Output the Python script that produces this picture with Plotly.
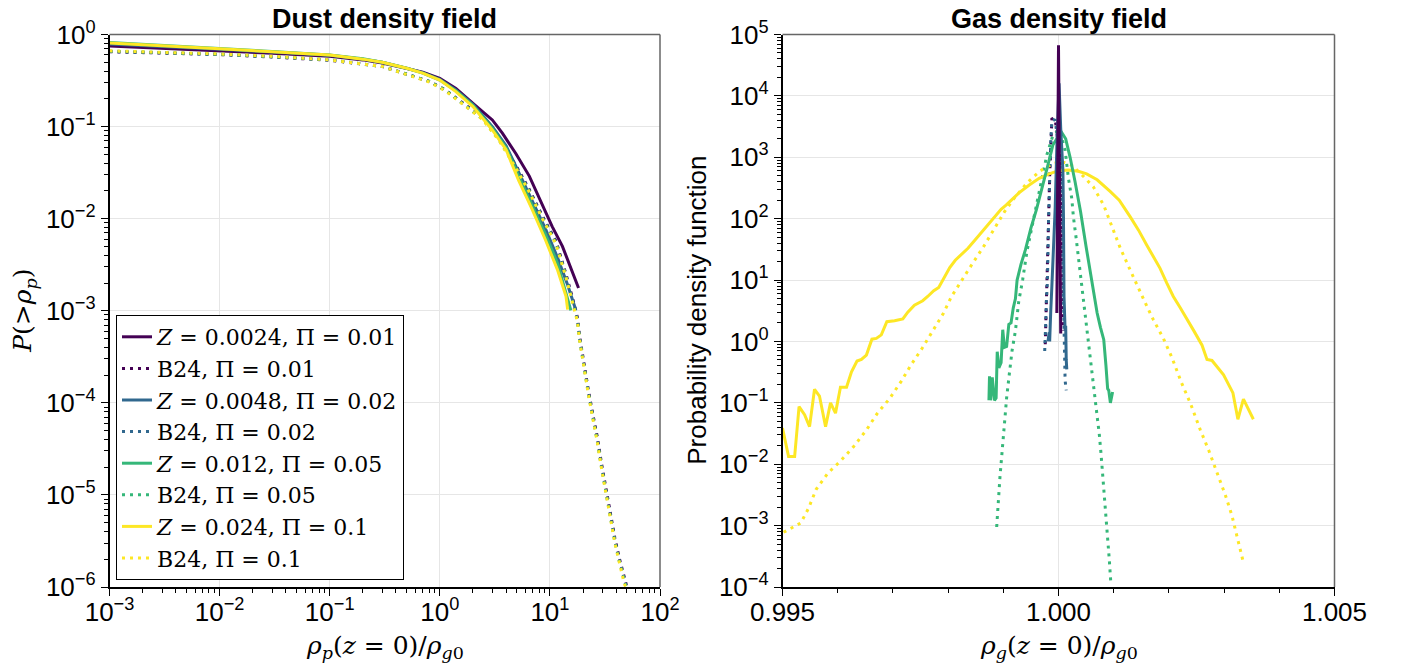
import plotly.graph_objects as go

# ---------------- colours (viridis, 4 levels) ----------------
series_colors = ["#440154", "#31688e", "#35b779", "#fde725"]

# ---------------- left panel: dust density CDF ----------------
legend_names = [
    "<i>Z</i> = 0.0024, Π = 0.01", "B24, Π = 0.01",
    "<i>Z</i> = 0.0048, Π = 0.02", "B24, Π = 0.02",
    "<i>Z</i> = 0.012, Π = 0.05", "B24, Π = 0.05",
    "<i>Z</i> = 0.024, Π = 0.1", "B24, Π = 0.1",
]

dust_x_Z1 = [1e-3, 3e-3, 1e-2, 3e-2, 0.1, 0.2, 0.3, 0.5, 0.7, 1.0, 1.4, 2.1, 3.0, 3.7,
             4.9, 6.5, 7.4, 8.5, 10.5, 13.0, 15.5, 18.2]
dust_P_Z1 = [0.75, 0.71, 0.665, 0.625, 0.58, 0.53, 0.49, 0.43, 0.39, 0.335, 0.26, 0.17,
             0.118, 0.085, 0.051, 0.029, 0.0205, 0.0148, 0.0082, 0.005, 0.0029, 0.00177]

dust_x_Z2 = [1e-3, 3e-3, 1e-2, 3e-2, 0.1, 0.2, 0.3, 0.5, 0.7, 1.0, 1.4, 2.0, 3.0, 4.0,
             5.2, 6.9, 9.1, 11.7, 14.5, 17.2]
dust_P_Z2 = [0.79, 0.745, 0.69, 0.645, 0.595, 0.54, 0.50, 0.43, 0.385, 0.325, 0.25, 0.175,
             0.10, 0.062, 0.032, 0.016, 0.0078, 0.0038, 0.0019, 0.00102]

dust_x_Z3 = [1e-3, 3e-3, 1e-2, 3e-2, 0.1, 0.2, 0.3, 0.5, 0.7, 1.0, 1.4, 2.0, 3.0, 4.0,
             5.2, 6.9, 9.1, 11.7, 14.0, 15.5]
dust_P_Z3 = [0.82, 0.765, 0.705, 0.655, 0.60, 0.545, 0.50, 0.43, 0.38, 0.32, 0.245, 0.17,
             0.096, 0.059, 0.029, 0.014, 0.0068, 0.0033, 0.0016, 0.00101]

dust_x_Z4 = [1e-3, 3e-3, 1e-2, 3e-2, 0.1, 0.2, 0.3, 0.5, 0.7, 1.0, 1.4, 2.0, 3.0, 4.0,
             5.2, 6.9, 9.1, 11.7, 14.0, 14.5]
dust_P_Z4 = [0.81, 0.76, 0.70, 0.65, 0.60, 0.54, 0.50, 0.43, 0.38, 0.32, 0.24, 0.165,
             0.092, 0.056, 0.026, 0.0126, 0.0059, 0.0028, 0.00144, 0.00103]

dust_x_B24 = [1e-3, 3e-3, 1e-2, 3e-2, 0.1, 0.3, 0.8, 1.12, 1.72, 2.44, 3.47, 4.9, 6.46,
              8.5, 11.35, 14.0, 16.6, 17.8, 18.6, 20.4, 22.4, 24.5, 26.9, 29.5, 32.4,
              35.5, 38.9, 42.7, 47.3, 49.5]
dust_P_B24_1 = [0.65, 0.63, 0.605, 0.57, 0.525, 0.45, 0.31, 0.25, 0.172, 0.125, 0.074,
                0.038, 0.021, 0.0108, 0.0057, 0.0025, 0.00118, 8.4e-4, 5.3e-4, 2.6e-4,
                1.35e-4, 7.6e-5, 4.3e-5, 2.15e-5, 1.12e-5, 6.2e-6, 3.4e-6, 2.05e-6,
                1.22e-6, 1.05e-6]
dust_P_B24_2 = [0.655, 0.635, 0.61, 0.575, 0.53, 0.45, 0.31, 0.25, 0.17, 0.123, 0.072,
                0.037, 0.0205, 0.0105, 0.0055, 0.0024, 0.0011, 8.0e-4, 5.0e-4, 2.4e-4,
                1.28e-4, 7.2e-5, 4.0e-5, 2.0e-5, 1.05e-5, 5.8e-6, 3.2e-6, 1.95e-6,
                1.17e-6, 1.0e-6]
dust_P_B24_3 = [0.66, 0.64, 0.61, 0.575, 0.53, 0.45, 0.31, 0.248, 0.168, 0.121, 0.071,
                0.036, 0.02, 0.0103, 0.0054, 0.00235, 0.00108, 7.8e-4, 4.9e-4, 2.35e-4,
                1.25e-4, 7.0e-5, 3.9e-5, 1.95e-5, 1.02e-5, 5.6e-6, 3.1e-6, 1.9e-6,
                1.13e-6, 9.7e-7]
dust_P_B24_4 = [0.665, 0.645, 0.615, 0.58, 0.53, 0.45, 0.305, 0.245, 0.166, 0.12, 0.07,
                0.0355, 0.0197, 0.0101, 0.0053, 0.0023, 0.00105, 7.6e-4, 4.8e-4, 2.3e-4,
                1.22e-4, 6.8e-5, 3.8e-5, 1.9e-5, 1.0e-5, 5.5e-6, 3.0e-6, 1.85e-6,
                1.1e-6, 9.5e-7]

# ---------------- right panel: gas density PDF ----------------
gas_x_Z1 = [0.99997, 0.99998, 1.00000, 1.00002, 1.00004]
gas_pdf_Z1 = [2.9, 300, 67000, 300, 1.35]

gas_x_B24_1 = [0.99976, 0.99977, 0.99978, 0.9998, 0.99982, 0.99984, 0.99986, 0.99988,
               0.99991, 0.99994, 0.99997, 1.0, 1.00003, 1.00005, 1.00006, 1.00008, 1.00009]
gas_pdf_B24_1 = [0.9, 1.8, 3.5, 9, 90, 500, 1700, 4200, 4300, 4100, 2600, 1500, 900, 300,
                 100, 8, 1.5]

gas_x_Z2 = [0.99981, 0.99983, 0.99984, 0.99985, 0.99986, 0.99988, 0.99991, 0.99994,
            0.99997, 1.00001, 1.00004, 1.00006, 1.00008, 1.00009, 1.0001, 1.00012,
            1.00013, 1.00014, 1.00015]
gas_pdf_Z2 = [1.0, 1.4, 1.0, 2.5, 3.2, 8, 30, 150, 1500, 16000, 3000, 1500, 600, 107, 5.4,
              1.5, 1.8, 0.5, 0.35]

gas_x_B24_2 = [0.99975, 0.99976, 0.99977, 0.99978, 0.9998, 0.99982, 0.99984, 0.99986,
               0.99988, 0.99991, 0.99994, 0.99997, 1.0, 1.00003, 1.00005, 1.00006,
               1.00008, 1.00009, 1.0001, 1.00012, 1.00014]
gas_pdf_B24_2 = [0.7, 1.05, 2.2, 4.5, 10, 100, 550, 1800, 4000, 4100, 4000, 2500, 1500,
                 900, 300, 107, 9, 2, 0.7, 0.23, 0.16]

gas_x_Z3 = [0.99874, 0.99875, 0.99877, 0.99880, 0.99884, 0.99887, 0.99889, 0.99892,
            0.99896, 0.99899, 0.99902, 0.99906, 0.99910, 0.99914, 0.99918, 0.99922,
            0.99925, 0.99932, 0.99940, 0.99950, 0.99960, 0.99970, 0.99980, 0.99990,
            1.00005, 1.00013, 1.00021, 1.00030, 1.00040, 1.00050, 1.00060, 1.00066,
            1.00070, 1.00076, 1.00082, 1.00086, 1.00089, 1.00091, 1.00094, 1.00098]
gas_pdf_Z3 = [0.11, 0.27, 0.11, 0.26, 0.11, 0.12, 0.68, 0.37, 0.45, 1.55, 0.8, 0.83, 1.9,
              2.0, 3.5, 5, 10, 18, 31, 70, 140, 300, 700, 1600, 2600, 2000, 1000, 400,
              130, 35, 10, 5, 2.9, 1.7, 1.07, 0.4, 0.17, 0.16, 0.1, 0.15]

gas_x_B24_3 = [0.99888, 0.99889, 0.99891, 0.99894, 0.99897, 0.99900, 0.99903, 0.99906,
               0.99911, 0.99916, 0.99922, 0.99928, 0.99935, 0.99943, 0.99955, 0.99967,
               0.99979, 0.99990, 1.00002, 1.00012, 1.00018, 1.00024, 1.00027, 1.00032,
               1.00036, 1.00039, 1.00044, 1.00048, 1.00053, 1.00057, 1.00062, 1.00066,
               1.00071, 1.00074, 1.00077, 1.00080, 1.00083, 1.00086, 1.00089, 1.00092,
               1.00095]
gas_pdf_B24_3 = [9.5e-4, 1.4e-3, 3e-3, 6.3e-3, 0.013, 0.028, 0.065, 0.12, 0.3, 0.72, 1.5,
                 4.5, 10, 30, 100, 350, 1100, 2300, 2800, 1300, 457, 214, 107, 48, 24,
                 11.5, 5.4, 2.7, 1.29, 0.6, 0.27, 0.12, 0.055, 0.03, 0.015, 7e-3, 3.4e-3,
                 1.6e-3, 6.5e-4, 2.8e-4, 1.1e-4]

gas_x_Z4 = [0.99500, 0.99511, 0.99522, 0.99530, 0.99540, 0.99549, 0.99558, 0.99567,
            0.99578, 0.99587, 0.99596, 0.99605, 0.99616, 0.99625, 0.99635, 0.99643,
            0.99652, 0.99662, 0.99670, 0.99679, 0.99689, 0.99703, 0.99718, 0.99727,
            0.99739, 0.99754, 0.99763, 0.99774, 0.99783, 0.99792, 0.99803, 0.99813,
            0.99824, 0.99836, 0.99848, 0.99860, 0.99872, 0.99884, 0.99896, 0.99905,
            0.99917, 0.99929, 0.99947, 0.99965, 0.99983, 1.00000, 1.00018, 1.00036,
            1.00051, 1.00070, 1.00094, 1.00110, 1.00130, 1.00145, 1.00160, 1.00172,
            1.00184, 1.00196, 1.00208, 1.00220, 1.00232, 1.00245, 1.00260, 1.00269,
            1.00278, 1.00299, 1.00316, 1.00325, 1.00335, 1.00353]
gas_pdf_Z4 = [0.039, 0.0133, 0.0133, 0.087, 0.064, 0.041, 0.166, 0.129, 0.041, 0.10,
              0.068, 0.18, 0.18, 0.32, 0.48, 0.51, 0.6, 1.09, 1.12, 1.28, 2.1, 2.17, 2.33,
              3.0, 3.9, 4.6, 5.4, 6.7, 7.6, 10.7, 16, 21, 26, 33, 44, 59, 79, 107, 142,
              166, 208, 265, 353, 455, 535, 605, 620, 590, 537, 430, 275, 200, 107, 65,
              37, 24, 15.5, 9, 5.4, 3.6, 2.4, 1.5, 0.87, 0.51, 0.49, 0.285, 0.145, 0.054,
              0.115, 0.054]

gas_x_B24_4 = [0.99502, 0.99519, 0.99533, 0.99547, 0.99561, 0.99582, 0.99606, 0.99629,
               0.99652, 0.99672, 0.99694, 0.99715, 0.99733, 0.99753, 0.99772, 0.99791,
               0.99806, 0.99825, 0.99845, 0.99864, 0.99882, 0.99902, 0.99922, 0.99944,
               0.99967, 0.99991, 1.00006, 1.00024, 1.00045, 1.00063, 1.00082, 1.00097,
               1.00112, 1.00127, 1.00142, 1.00157, 1.00172, 1.00190, 1.00205, 1.00223,
               1.00239, 1.00257, 1.00272, 1.00290, 1.00302, 1.00314, 1.00323, 1.00335]
gas_pdf_B24_4 = [7.8e-4, 9.3e-4, 1.1e-3, 1.9e-3, 3.9e-3, 7.1e-3, 0.0115, 0.0195, 0.036,
                 0.068, 0.117, 0.224, 0.417, 0.776, 1.48, 2.82, 5.37, 10.2, 19.1, 34.7,
                 66, 129, 229, 389, 603, 794, 851, 741, 490, 331, 165, 72, 33, 16.6, 8.3,
                 4.3, 2.24, 1.12, 0.56, 0.21, 0.098, 0.036, 0.017, 6.3e-3, 3.2e-3,
                 1.48e-3, 6.6e-4, 2.5e-4]

# ---------------- tick labels ----------------
dust_xtick_vals = [1e-3, 1e-2, 1e-1, 1e0, 1e1, 1e2]
dust_xtick_text = ["10<sup>−3</sup>", "10<sup>−2</sup>", "10<sup>−1</sup>",
                   "10<sup>0</sup>", "10<sup>1</sup>", "10<sup>2</sup>"]
dust_ytick_vals = [1e-6, 1e-5, 1e-4, 1e-3, 1e-2, 1e-1, 1e0]
dust_ytick_text = ["10<sup>−6</sup>", "10<sup>−5</sup>", "10<sup>−4</sup>",
                   "10<sup>−3</sup>", "10<sup>−2</sup>", "10<sup>−1</sup>",
                   "10<sup>0</sup>"]
gas_xtick_vals = [0.995, 1.0, 1.005]
gas_xtick_text = ["0.995", "1.000", "1.005"]
gas_ytick_vals = [1e-4, 1e-3, 1e-2, 1e-1, 1e0, 1e1, 1e2, 1e3, 1e4, 1e5]
gas_ytick_text = ["10<sup>−4</sup>", "10<sup>−3</sup>", "10<sup>−2</sup>",
                  "10<sup>−1</sup>", "10<sup>0</sup>", "10<sup>1</sup>",
                  "10<sup>2</sup>", "10<sup>3</sup>", "10<sup>4</sup>",
                  "10<sup>5</sup>"]

# ---------------- figure ----------------
W, H = 1401, 670
OX, OY = 0, 0          # page body margin is removed below (post_script)
LW = 3
DOT = "3px,5px"


def px_x(px):
    return (px - OX) / W


def px_y(py):
    return (H - (py - OY)) / H


fig = go.Figure()

dust_solid = [(dust_x_Z1, dust_P_Z1), (dust_x_Z2, dust_P_Z2),
              (dust_x_Z3, dust_P_Z3), (dust_x_Z4, dust_P_Z4)]
dust_dotted = [dust_P_B24_1, dust_P_B24_2, dust_P_B24_3, dust_P_B24_4]
for i in range(4):
    xs, ys = dust_solid[i]
    fig.add_trace(go.Scatter(x=xs, y=ys, mode="lines", name=legend_names[2 * i],
                             line=dict(color=series_colors[i], width=LW),
                             xaxis="x", yaxis="y"))
    fig.add_trace(go.Scatter(x=dust_x_B24, y=dust_dotted[i], mode="lines",
                             name=legend_names[2 * i + 1],
                             line=dict(color=series_colors[i], width=LW, dash=DOT),
                             xaxis="x", yaxis="y"))

gas_solid = [(gas_x_Z1, gas_pdf_Z1), (gas_x_Z2, gas_pdf_Z2),
             (gas_x_Z3, gas_pdf_Z3), (gas_x_Z4, gas_pdf_Z4)]
gas_dotted = [(gas_x_B24_1, gas_pdf_B24_1), (gas_x_B24_2, gas_pdf_B24_2),
              (gas_x_B24_3, gas_pdf_B24_3), (gas_x_B24_4, gas_pdf_B24_4)]
for i in range(4):
    xs, ys = gas_dotted[i]
    fig.add_trace(go.Scatter(x=xs, y=ys, mode="lines", showlegend=False,
                             line=dict(color=series_colors[i], width=LW, dash=DOT),
                             xaxis="x2", yaxis="y2"))
for i in [3, 2, 1, 0]:
    xs, ys = gas_solid[i]
    fig.add_trace(go.Scatter(x=xs, y=ys, mode="lines", showlegend=False,
                             line=dict(color=series_colors[i], width=LW),
                             xaxis="x2", yaxis="y2"))

# plot area geometry (screen pixels)
L1, R1 = 109.5, 660.0
L2, R2 = 782.5, 1334.5
TOP, BOT = 34.5, 587.0
ydom = [px_y(BOT), px_y(TOP)]

tick_font = dict(family="Liberation Sans, Arial, sans-serif", size=26, color="black")
grid_col = "#e6e6e6"

log_minor_dust_x = [m * 10 ** k for k in range(-3, 2) for m in range(2, 10)]
log_minor_dust_y = [m * 10 ** k for k in range(-6, 0) for m in range(2, 10)]
log_minor_gas_y = [m * 10 ** k for k in range(-4, 5) for m in range(2, 10)]
lin_minor_gas_x = [0.996, 0.997, 0.998, 0.999, 1.001, 1.002, 1.003, 1.004]

common = dict(showline=True, linecolor="black", linewidth=1.5, mirror=False,
              ticks="outside", ticklen=7, tickwidth=1, tickcolor="black",
              tickfont=tick_font, showgrid=True, gridcolor=grid_col, gridwidth=1,
              zeroline=False, tickmode="array", automargin=False)

fig.update_layout(
    width=W, height=H,
    margin=dict(l=0, r=0, t=0, b=0, autoexpand=False),
    paper_bgcolor="white", plot_bgcolor="white",
    xaxis=dict(type="log", range=[-3, 2], domain=[px_x(L1), px_x(R1)], anchor="y",
               tickvals=dust_xtick_vals, ticktext=dust_xtick_text,
               ticklabelstandoff=-6,
               minor=dict(tickmode="array", tickvals=log_minor_dust_x, ticks="outside",
                          ticklen=4, tickcolor="black", showgrid=False),
               **common),
    yaxis=dict(type="log", range=[-6, 0], domain=ydom, anchor="x",
               tickvals=dust_ytick_vals, ticktext=dust_ytick_text,
               minor=dict(tickmode="array", tickvals=log_minor_dust_y, ticks="outside",
                          ticklen=4, tickcolor="black", showgrid=False),
               **common),
    xaxis2=dict(range=[0.995, 1.005], domain=[px_x(L2), px_x(R2)], anchor="y2",
                tickvals=gas_xtick_vals, ticktext=gas_xtick_text,
                ticklabelstandoff=-6,
                minor=dict(tickmode="array", tickvals=lin_minor_gas_x, ticks="outside",
                           ticklen=4, tickcolor="black", showgrid=False),
                **common),
    yaxis2=dict(type="log", range=[-4, 5], domain=ydom, anchor="x2",
                tickvals=gas_ytick_vals, ticktext=gas_ytick_text,
                minor=dict(tickmode="array", tickvals=log_minor_gas_y, ticks="outside",
                           ticklen=4, tickcolor="black", showgrid=False),
                **common),
    legend=dict(x=px_x(116), y=px_y(580), xanchor="left", yanchor="bottom",
                bgcolor="white", bordercolor="black", borderwidth=1,
                font=dict(family="DejaVu Serif, serif", size=22, color="black"),
                tracegroupgap=0),
    showlegend=True,
)

# frame (top/right borders in grey)
for xr, yr in (("x domain", "y domain"), ("x2 domain", "y2 domain")):
    fig.add_shape(type="line", xref=xr, yref=yr, x0=0, x1=1, y0=1, y1=1,
                  line=dict(color="#666666", width=1.5))
    fig.add_shape(type="line", xref=xr, yref=yr, x0=1, x1=1, y0=0, y1=1,
                  line=dict(color="#666666", width=1.5))

title_font = dict(family="Liberation Sans, Arial, sans-serif", size=27, color="black")
serif = dict(family="DejaVu Serif, serif", size=25, color="black")

annots = [
    dict(text="<b>Dust density field</b>", x=px_x((L1 + R1) / 2), y=px_y(19),
         font=title_font),
    dict(text="<b>Gas density field</b>", x=px_x((L2 + R2) / 2), y=px_y(19),
         font=title_font),
    dict(text="<i>ρ</i><sub><i>p</i></sub>(<i>z</i> = 0)/<i>ρ</i><sub><i>g</i>0</sub>",
         x=px_x((L1 + R1) / 2), y=px_y(647), font=serif),
    dict(text="<i>ρ</i><sub><i>g</i></sub>(<i>z</i> = 0)/<i>ρ</i><sub><i>g</i>0</sub>",
         x=px_x((L2 + R2) / 2), y=px_y(647), font=serif),
    dict(text="<i>P</i>(&gt;<i>ρ</i><sub><i>p</i></sub>)", x=px_x(24),
         y=px_y((TOP + BOT) / 2), textangle=-90, font=serif),
    dict(text="Probability density function", x=px_x(697),
         y=px_y((TOP + BOT) / 2), textangle=-90,
         font=dict(family="Liberation Sans, Arial, sans-serif", size=26, color="black")),
]
for a in annots:
    fig.add_annotation(xref="paper", yref="paper", showarrow=False,
                       xanchor="center", yanchor="middle", **a)

fig.write_html("out.html",
               config={"displayModeBar": False},
               post_script="document.body.style.margin='0';"
                           "document.body.style.overflow='hidden';")
